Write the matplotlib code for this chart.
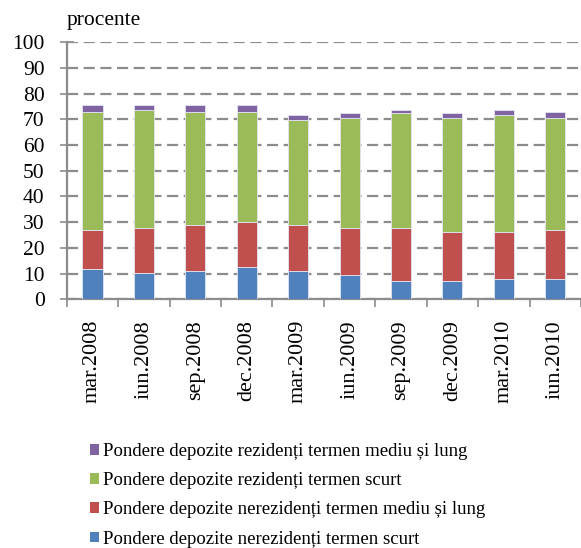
import numpy as np
import matplotlib.pyplot as plt
from matplotlib.patches import Patch

plt.rcParams['font.family'] = ['Liberation Serif', 'DejaVu Serif']

labels = ['mar.2008', 'iun.2008', 'sep.2008', 'dec.2008', 'mar.2009',
          'iun.2009', 'sep.2009', 'dec.2009', 'mar.2010', 'iun.2010']
nerez_scurt = [11.6, 10.1, 10.9, 12.5, 10.9, 9.3, 7.0, 7.0, 7.8, 7.8]
nerez_lung = [15.5, 17.8, 17.8, 17.7, 17.8, 18.6, 20.9, 19.3, 18.5, 19.3]
rez_scurt = [45.9, 45.9, 44.3, 42.8, 41.2, 42.8, 44.4, 44.4, 45.2, 43.6]
rez_lung = [2.4, 1.6, 2.4, 2.4, 1.6, 1.6, 1.5, 1.6, 2.3, 2.3]

series = [
    ('Pondere depozite nerezidenți termen scurt', nerez_scurt, '#4F81BD'),
    ('Pondere depozite nerezidenți termen mediu și lung', nerez_lung, '#C0504D'),
    ('Pondere depozite rezidenți termen scurt', rez_scurt, '#9BBB59'),
    ('Pondere depozite rezidenți termen mediu și lung', rez_lung, '#8064A2'),
]

fig = plt.figure(figsize=(5.81, 5.48), dpi=100)
ax = fig.add_axes([0.115, 0.454, 0.885, 0.469])

x = np.arange(len(labels))
bottom = np.zeros(len(labels))
for name, vals, col in series:
    ax.bar(x, vals, 0.39, bottom=bottom, color=col, edgecolor='#E4E4F4',
           linewidth=0.6, zorder=3)
    bottom += np.array(vals)

ax.set_xlim(-0.5, len(labels) - 0.5)
ax.set_ylim(0, 100)
ax.set_yticks(np.arange(0, 101, 10))
ax.yaxis.grid(True, linestyle=(0, (5, 2.5)), color='#8C8C8C', linewidth=1.6, zorder=0)
ax.set_xticks(x)
ax.set_xticklabels(labels, rotation=90, fontsize=16)
ax.set_xticks(np.arange(-0.5, len(labels), 1), minor=True)
ax.tick_params(axis='x', which='major', length=0, pad=15)
ax.tick_params(axis='x', which='minor', length=6, width=1.2, color='#8C8C8C', direction='out')
ax.tick_params(axis='y', labelsize=15.5, length=10, width=1.2, color='#8C8C8C',
               direction='inout', pad=11)
for s in ['top', 'right']:
    ax.spines[s].set_visible(False)
for s in ['left', 'bottom']:
    ax.spines[s].set_color('#8C8C8C')
    ax.spines[s].set_linewidth(1.6)

fig.text(0.115, 0.945, 'procente', fontsize=15.5, ha='left', va='bottom')

handles = [Patch(facecolor=col, label=name) for name, vals, col in series[::-1]]
fig.legend(handles=handles, loc='lower left', bbox_to_anchor=(0.125, -0.03),
           frameon=False, fontsize=13.5, handlelength=0.5, handleheight=0.5,
           handletextpad=0.2, labelspacing=0.65)

fig.savefig('out.png', dpi=100)
